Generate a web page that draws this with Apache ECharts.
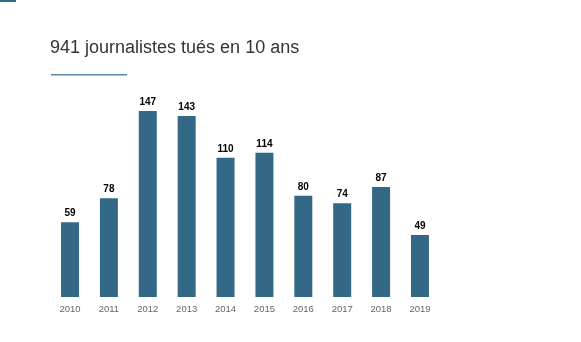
<!DOCTYPE html>
<html><head><meta charset="utf-8">
<script src="https://cdn.jsdelivr.net/npm/echarts@6/dist/echarts.min.js"></script>
<style>html,body{margin:0;padding:0;background:#fff}#c{width:581px;height:342px}</style>
</head><body><div id="c"></div>
<script>
const categories = ['2010','2011','2012','2013','2014','2015','2016','2017','2018','2019'];
const values = [59, 78, 147, 143, 110, 114, 80, 74, 87, 49];
const titleText = '941 journalistes tués en 10 ans';

const chart = echarts.init(document.getElementById('c'));
chart.setOption({
  animation: false,
  grid: {left: 50.6, right: 581 - 439.4, top: 111, bottom: 45, containLabel: false},
  xAxis: {
    type: 'category', data: categories,
    axisLine: {show: false}, axisTick: {show: false},
    axisLabel: {color: '#666', fontSize: 9.5, fontFamily: 'Liberation Sans, Arial', margin: 7}
  },
  yAxis: {type: 'value', min: 0, max: 147, show: false, splitLine: {show: false}},
  series: [{
    type: 'bar', data: values, barWidth: 18,
    itemStyle: {color: '#336886'},
    label: {show: true, position: 'top', distance: 4, color: '#000', fontWeight: 'bold', fontSize: 10, fontFamily: 'Liberation Sans, Arial'}
  }],
  graphic: [
    {type: 'rect', shape: {x: 0, y: 0, width: 16, height: 2}, style: {fill: '#336886'}},
    {type: 'text', left: 50, top: 39, style: {text: titleText, fill: '#333', fontSize: 18, fontFamily: 'Liberation Sans, Arial'}},
    {type: 'rect', shape: {x: 51, y: 74, width: 76, height: 1.5}, style: {fill: '#5b86a6'}}
  ]
});
</script></body></html>
